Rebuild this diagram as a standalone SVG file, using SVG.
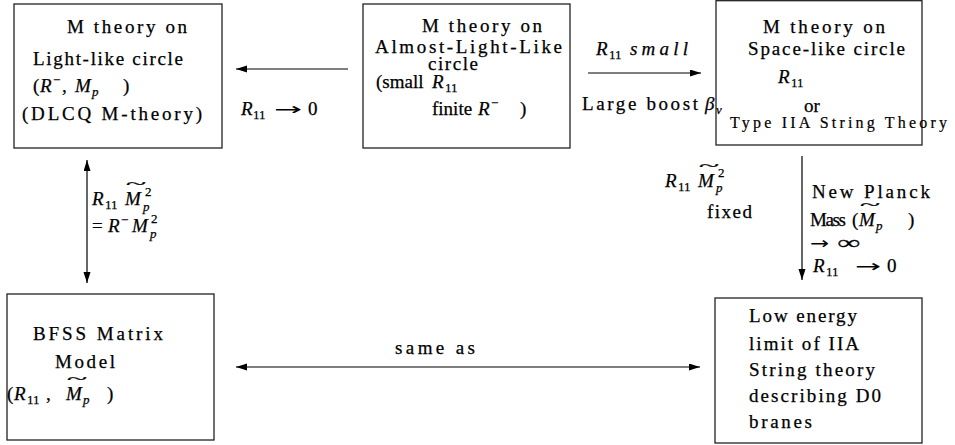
<svg xmlns="http://www.w3.org/2000/svg" width="955" height="445" viewBox="0 0 955 445">
<defs>
<style>
.box{fill:none;stroke:#222;stroke-width:1.3}
.ln{stroke:#000;stroke-width:1.2;fill:none}
.t{font-family:"Liberation Serif","Times New Roman",serif;font-size:19px;fill:#000;stroke:#000;stroke-width:0.25}
.i{font-style:italic}
.s{font-size:13px}
.tl{font-family:"Liberation Serif","Times New Roman",serif;font-size:16px;fill:#000;stroke:#000;stroke-width:0.2}
.tw{font-size:14px;font-style:normal}
.ar{font-family:"DejaVu Sans",sans-serif;font-size:17px;fill:#000}
</style>
<marker id="ah" markerUnits="userSpaceOnUse" markerWidth="12" markerHeight="8" refX="11" refY="3.5" orient="auto-start-reverse">
<path d="M0,0 L11,3.5 L0,7 z" fill="#000"/>
</marker>
</defs>
<rect width="955" height="445" fill="#fff"/>

<g id="dlcq">
<rect class="box" x="14" y="4" width="208" height="144"/>
<text class="t" x="67" y="33" textLength="120" lengthAdjust="spacing">M theory on</text>
<text class="t" x="33" y="65" textLength="150" lengthAdjust="spacing">Light-like circle</text>
<text class="t" x="33" y="92">(<tspan class="i" x="40">R</tspan><tspan class="s" x="53" y="84">−</tspan><tspan x="62" y="92">,</tspan><tspan class="i" x="75">M</tspan><tspan class="s i" x="92" y="96">p</tspan><tspan x="123" y="92">)</tspan></text>
<text class="t" x="22" y="120" textLength="180" lengthAdjust="spacing">(DLCQ M-theory)</text>
</g>

<g id="almost">
<rect class="box" x="363" y="4" width="207" height="144"/>
<text class="t" x="422" y="32" textLength="120" lengthAdjust="spacing">M theory on</text>
<text class="t" x="375" y="53" textLength="187" lengthAdjust="spacing">Almost-Light-Like</text>
<text class="t" x="428" y="70" textLength="50" lengthAdjust="spacing">circle</text>
<text class="t" x="376" y="88">(small<tspan class="i" x="432">R</tspan><tspan class="s" x="445" y="92">11</tspan></text>
<text class="t" x="432" y="115">finite<tspan class="i" x="478">R</tspan><tspan class="s" x="491" y="107">−</tspan><tspan x="520" y="115">)</tspan></text>
</g>

<g id="spacelike">
<rect class="box" x="716" y="0.7" width="206" height="144.3"/>
<text class="t" x="763" y="33" textLength="122" lengthAdjust="spacing">M theory on</text>
<text class="t" x="748" y="55" textLength="157" lengthAdjust="spacing">Space-like circle</text>
<text class="t i" x="778" y="83">R<tspan class="s" x="791" y="87" font-style="normal">11</tspan></text>
<text class="t" x="804" y="112" font-size="20">or</text>
<text class="tl" x="730" y="128" textLength="217" lengthAdjust="spacing">Type IIA String Theory</text>
</g>

<g id="bfss">
<rect class="box" x="7" y="294" width="207" height="146"/>
<text class="t" x="33" y="340" textLength="130" lengthAdjust="spacing">BFSS Matrix</text>
<text class="t" x="55" y="368" textLength="60" lengthAdjust="spacing">Model</text>
<text class="t" x="7" y="400">(<tspan class="i" x="14">R</tspan><tspan class="s" x="27" y="404">11</tspan><tspan x="46" y="400">,</tspan><tspan class="i" x="66">M</tspan><tspan class="tw" x="67" y="384" textLength="20" lengthAdjust="spacingAndGlyphs">~</tspan><tspan class="s i" x="83" y="404">p</tspan><tspan x="107" y="400">)</tspan></text>
</g>

<g id="d0">
<rect class="box" x="715" y="298" width="207" height="145"/>
<text class="t" x="749" y="322" textLength="108" lengthAdjust="spacing">Low energy</text>
<text class="t" x="749" y="350" textLength="110" lengthAdjust="spacing">limit of IIA</text>
<text class="t" x="749" y="376" textLength="126" lengthAdjust="spacing">String theory</text>
<text class="t" x="749" y="402" textLength="132" lengthAdjust="spacing">describing D0</text>
<text class="t" x="749" y="428" textLength="63" lengthAdjust="spacing">branes</text>
</g>

<g id="connectors">
<line class="ln" x1="348" y1="69" x2="236" y2="69" marker-end="url(#ah)"/>
<line class="ln" x1="588" y1="73" x2="701" y2="73" marker-end="url(#ah)"/>
<line class="ln" x1="87" y1="160" x2="87" y2="283" marker-start="url(#ah)" marker-end="url(#ah)"/>
<line class="ln" x1="802" y1="156" x2="802" y2="280" marker-end="url(#ah)"/>
<line class="ln" x1="236" y1="367" x2="700" y2="367" marker-start="url(#ah)" marker-end="url(#ah)"/>

<g id="lbl-r11to0">
<text class="t i" x="241" y="115">R<tspan class="s" x="253" y="119" font-style="normal">11</tspan></text>
<text class="ar" x="274" y="115" textLength="28" lengthAdjust="spacingAndGlyphs">→</text>
<text class="t" x="308" y="115">0</text>
</g>
<g id="lbl-small">
<text class="t i" x="596" y="55">R<tspan class="s" x="609" y="59" font-style="normal">11</tspan><tspan x="630" y="55" textLength="58" lengthAdjust="spacing">small</tspan></text>
<text class="t" x="582" y="110" textLength="116" lengthAdjust="spacing">Large boost</text>
<text class="t i" x="705" y="110">β<tspan class="s" x="716" y="114">v</tspan></text>
</g>
<g id="lbl-left">
<text class="t i" x="92" y="205">R<tspan class="s" x="105" y="209" font-style="normal">11</tspan><tspan x="125" y="205">M</tspan><tspan class="tw" x="126" y="189" textLength="20" lengthAdjust="spacingAndGlyphs">~</tspan><tspan class="s" x="145" y="196" font-style="normal">2</tspan><tspan class="s" x="143" y="211">p</tspan></text>
<text class="t" x="92" y="232">=<tspan class="i" x="108">R</tspan><tspan class="s" x="121" y="224">−</tspan><tspan class="i" x="132" y="232">M</tspan><tspan class="s" x="151" y="223">2</tspan><tspan class="s i" x="150" y="238">p</tspan></text>
</g>
<g id="lbl-right">
<text class="t i" x="665" y="187">R<tspan class="s" x="678" y="191" font-style="normal">11</tspan><tspan x="698" y="187">M</tspan><tspan class="tw" x="699" y="171" textLength="20" lengthAdjust="spacingAndGlyphs">~</tspan><tspan class="s" x="718" y="177" font-style="normal">2</tspan><tspan class="s" x="716" y="192">p</tspan></text>
<text class="t" x="707" y="218" textLength="45" lengthAdjust="spacing">fixed</text>
<text class="t" x="812" y="198" textLength="118" lengthAdjust="spacing">New Planck</text>
<text class="t" x="810" y="226"><tspan textLength="36" lengthAdjust="spacing">Mass</tspan><tspan x="852">(</tspan><tspan class="i" x="859">M</tspan><tspan class="tw" x="860" y="210" textLength="20" lengthAdjust="spacingAndGlyphs">~</tspan><tspan class="s i" x="876" y="230">p</tspan><tspan x="908" y="226">)</tspan></text>
<text class="ar" x="810" y="249" textLength="19" lengthAdjust="spacingAndGlyphs">→</text>
<text class="t" x="837" y="249" textLength="23" lengthAdjust="spacingAndGlyphs">∞</text>
<text class="t i" x="813" y="272">R<tspan class="s" x="826" y="276" font-style="normal">11</tspan></text>
<text class="ar" x="855" y="272" textLength="26" lengthAdjust="spacingAndGlyphs">→</text>
<text class="t" x="887" y="272">0</text>
</g>
<text class="t" x="395" y="354" textLength="80" lengthAdjust="spacing">same as</text>
</g>
</svg>
